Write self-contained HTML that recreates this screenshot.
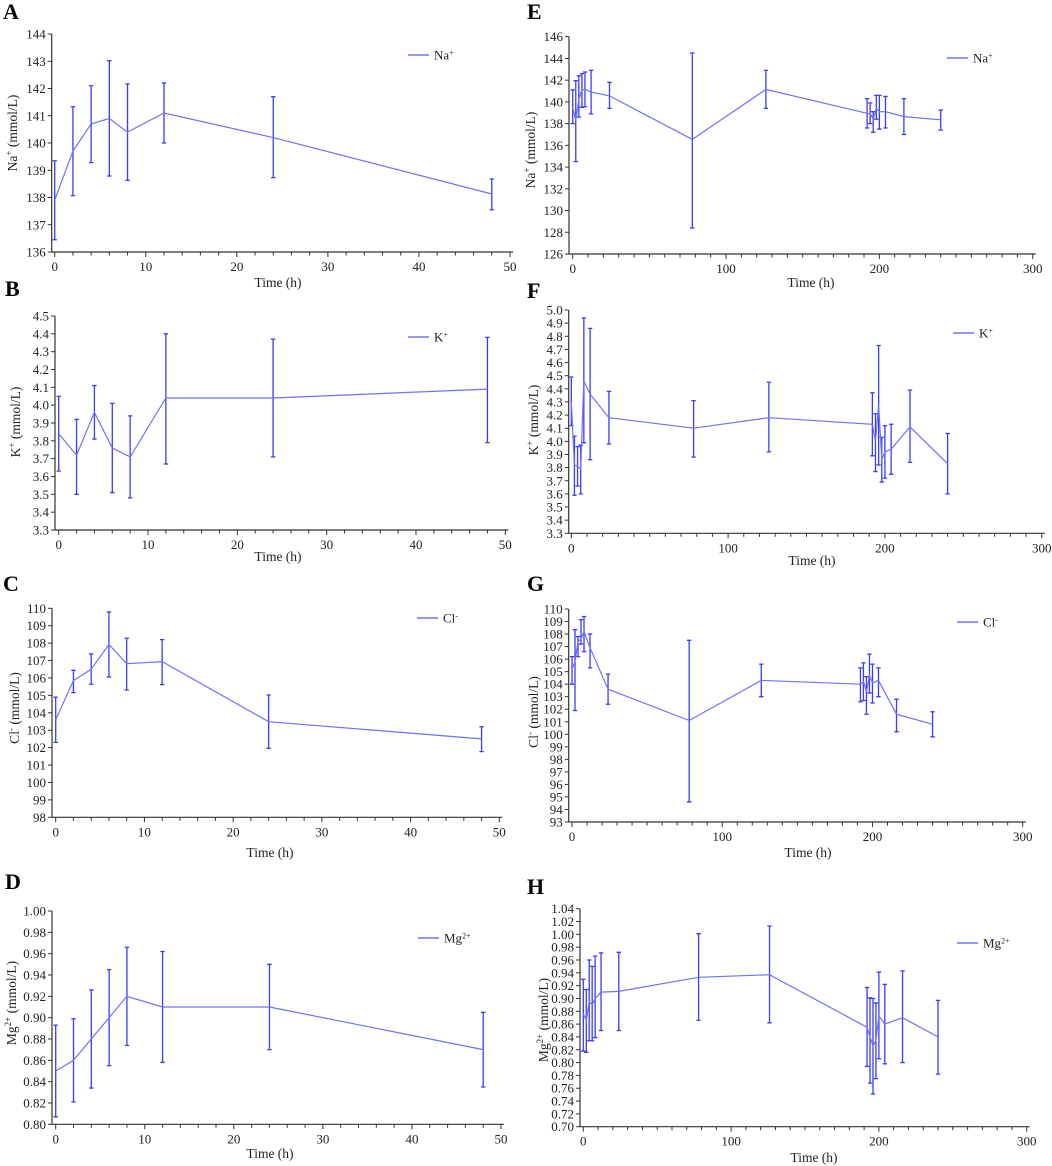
<!DOCTYPE html>
<html><head><meta charset="utf-8">
<style>
html,body{margin:0;padding:0;background:#fff;}
svg{display:block;font-family:"Liberation Serif",serif;}
</style></head>
<body>
<svg id="fig" width="1052" height="1166" viewBox="0 0 1052 1166" xmlns="http://www.w3.org/2000/svg"></svg>
<script>
// ---- data ----
const timesShort = [0, 2, 4, 6, 8, 12, 24, 48];
const timesLong = [0, 2, 4, 6, 8, 12, 24, 78, 126, 192, 194, 196, 198, 200, 204, 216, 240];

const naA = [137.9, 139.7, 140.7, 140.9, 140.4, 141.1, 140.2, 138.13];
const naALo = [136.45, 138.07, 139.28, 138.79, 138.63, 140.0, 138.73, 137.55];
const naAHi = [139.35, 141.33, 142.1, 143.02, 142.17, 142.2, 141.7, 138.68];

const kB = [3.84, 3.72, 3.96, 3.76, 3.71, 4.04, 4.04, 4.09];
const kBLo = [3.63, 3.50, 3.81, 3.51, 3.48, 3.67, 3.71, 3.79];
const kBHi = [4.05, 3.92, 4.11, 4.01, 3.94, 4.40, 4.37, 4.38];

const clC = [103.6, 105.85, 106.5, 107.93, 106.82, 106.94, 103.49, 102.5];
const clCLo = [102.3, 105.16, 105.64, 106.06, 105.31, 105.62, 101.96, 101.77];
const clCHi = [104.9, 106.44, 107.38, 109.79, 108.28, 108.2, 105.02, 103.2];

const mgD = [0.850, 0.860, 0.880, 0.900, 0.920, 0.910, 0.910, 0.870];
const mgDLo = [0.807, 0.821, 0.834, 0.855, 0.874, 0.858, 0.870, 0.835];
const mgDHi = [0.893, 0.899, 0.926, 0.945, 0.966, 0.962, 0.950, 0.905];

const naE = [139.5, 138.3, 140.2, 141.1, 141.15, 140.9, 140.55, 136.55, 141.15, 138.95, 138.9, 138.4, 139.4, 139.1, 139.1, 138.65, 138.35];
const naELo = [138.0, 134.5, 138.6, 139.5, 139.55, 138.9, 139.4, 128.4, 139.4, 137.6, 138.0, 137.2, 138.4, 137.5, 137.6, 137.0, 137.4];
const naEHi = [141.1, 141.95, 142.4, 142.6, 142.75, 142.9, 141.8, 144.5, 142.9, 140.3, 139.9, 139.1, 140.6, 140.6, 140.5, 140.3, 139.25];

const kF = [4.30, 3.82, 3.81, 3.79, 4.46, 4.36, 4.18, 4.10, 4.18, 4.13, 4.00, 4.28, 3.86, 3.92, 3.94, 4.11, 3.83];
const kFLo = [4.12, 3.59, 3.66, 3.60, 3.99, 3.86, 3.98, 3.88, 3.92, 3.89, 3.77, 3.82, 3.69, 3.72, 3.75, 3.84, 3.60];
const kFHi = [4.49, 4.04, 3.96, 3.97, 4.94, 4.86, 4.38, 4.31, 4.45, 4.37, 4.21, 4.73, 4.03, 4.12, 4.13, 4.39, 4.06];

const clG = [105.2, 105.8, 107.4, 107.6, 108.2, 106.9, 103.6, 101.1, 104.3, 104.0, 104.2, 103.4, 104.7, 104.1, 104.3, 101.6, 100.8];
const clGLo = [104.0, 101.9, 106.2, 107.2, 106.6, 105.3, 102.4, 94.6, 103.0, 102.6, 102.7, 101.6, 103.3, 102.5, 103.0, 100.2, 99.8];
const clGHi = [106.2, 108.35, 107.8, 109.15, 109.4, 108.0, 104.8, 107.5, 105.6, 105.3, 105.7, 104.6, 106.4, 105.6, 105.3, 102.8, 101.8];

const mgH = [0.876, 0.866, 0.895, 0.890, 0.900, 0.910, 0.911, 0.933, 0.937, 0.855, 0.840, 0.826, 0.834, 0.873, 0.860, 0.870, 0.840];
const mgHLo = [0.818, 0.816, 0.834, 0.834, 0.839, 0.850, 0.850, 0.866, 0.862, 0.794, 0.768, 0.751, 0.775, 0.806, 0.798, 0.800, 0.782];
const mgHHi = [0.930, 0.914, 0.960, 0.950, 0.966, 0.971, 0.972, 1.001, 1.013, 0.917, 0.901, 0.900, 0.893, 0.941, 0.922, 0.943, 0.897];

const xTicksShort = [0, 10, 20, 30, 40, 50];
const xTicksLong = [0, 100, 200, 300];

// ---- layout ----
const NS = "http://www.w3.org/2000/svg";
const svg = document.getElementById("fig");
function mk(tag, attrs, parent) {
  const e = document.createElementNS(NS, tag);
  for (const k in attrs) e.setAttribute(k, attrs[k]);
  (parent || svg).appendChild(e);
  return e;
}

const panels = [
  {key:"a", letter:"A", lx:3, ly:19, axisX:51.7, x0:54.7, x1:510, xmax:50, minor:2, xTicks:xTicksShort,
   yTop:34, yBot:252, ymin:136, ymax:144, ystep:1, dec:0, t:timesShort, v:naA, lo:naALo, hi:naAHi,
   ion:"Na", sup:"+", tx:12, ty:133, xtY:287, xtX:278, legX:408, legY:55},
  {key:"b", letter:"B", lx:5, ly:296, axisX:55, x0:58.7, x1:505.3, xmax:50, minor:2, xTicks:xTicksShort,
   yTop:316, yBot:530, ymin:3.3, ymax:4.5, ystep:0.1, dec:1, t:timesShort, v:kB, lo:kBLo, hi:kBHi,
   ion:"K", sup:"+", tx:15, ty:422, xtY:561, xtX:278, legX:408, legY:337},
  {key:"c", letter:"C", lx:3, ly:591, axisX:52, x0:55.7, x1:499.3, xmax:50, minor:2, xTicks:xTicksShort,
   yTop:608.3, yBot:817.3, ymin:98, ymax:110, ystep:1, dec:0, t:timesShort, v:clC, lo:clCLo, hi:clCHi,
   ion:"Cl", sup:"-", tx:14, ty:708, xtY:857, xtX:270, legX:417, legY:618},
  {key:"d", letter:"D", lx:5, ly:889, axisX:52, x0:55.7, x1:501, xmax:50, minor:2, xTicks:xTicksShort,
   yTop:911, yBot:1124.3, ymin:0.80, ymax:1.00, ystep:0.02, dec:2, t:timesShort, v:mgD, lo:mgDLo, hi:mgDHi,
   ion:"Mg", sup:"2+", tx:11, ty:1003, xtY:1158, xtX:270, legX:418, legY:938},
  {key:"e", letter:"E", lx:527, ly:19, axisX:569, x0:572.7, x1:1032.7, xmax:300, minor:10, xTicks:xTicksLong,
   yTop:36.7, yBot:254, ymin:126, ymax:146, ystep:2, dec:0, t:timesLong, v:naE, lo:naELo, hi:naEHi,
   ion:"Na", sup:"+", tx:530, ty:150, xtY:287, xtX:811, legX:947, legY:58},
  {key:"f", letter:"F", lx:527, ly:298, axisX:568.7, x0:571.3, x1:1041.7, xmax:300, minor:10, xTicks:xTicksLong,
   yTop:310, yBot:533.3, ymin:3.3, ymax:5.0, ystep:0.1, dec:1, t:timesLong, v:kF, lo:kFLo, hi:kFHi,
   ion:"K", sup:"+", tx:533, ty:420, xtY:565, xtX:812, legX:953, legY:333},
  {key:"g", letter:"G", lx:527, ly:591, axisX:568.7, x0:572, x1:1022.7, xmax:300, minor:10, xTicks:xTicksLong,
   yTop:609, yBot:822, ymin:93, ymax:110, ystep:1, dec:0, t:timesLong, v:clG, lo:clGLo, hi:clGHi,
   ion:"Cl", sup:"-", tx:533, ty:712, xtY:857, xtX:808, legX:957, legY:622},
  {key:"h", letter:"H", lx:527, ly:894, axisX:580, x0:583.3, x1:1026.7, xmax:300, minor:10, xTicks:xTicksLong,
   yTop:908.7, yBot:1126.7, ymin:0.70, ymax:1.04, ystep:0.02, dec:2, t:timesLong, v:mgH, lo:mgHLo, hi:mgHHi,
   ion:"Mg", sup:"2+", tx:543, ty:1020, xtY:1162, xtX:814, legX:957, legY:943}
];

const LINE = "#7070ff", BAR = "#3b3bff", AX = "#333";

panels.forEach(p => {
  const g = mk("g", {});
  
  
  const xs = x => p.x0 + (x / p.xmax) * (p.x1 - p.x0);
  const ys = y => p.yBot - (y - p.ymin) / (p.ymax - p.ymin) * (p.yBot - p.yTop);

  const L = mk("text", {x:p.lx, y:p.ly, "font-size":22, "font-weight":"bold", fill:"#000"}, g);
  L.textContent = p.letter;
  
  

  // axes
  const yAx = mk("line", {x1:p.axisX, y1:p.yTop, x2:p.axisX, y2:p.yBot, stroke:AX, "stroke-width":1.2}, g);
  
  
  const xAx = mk("line", {x1:p.axisX, y1:p.yBot, x2:p.x1 + 3, y2:p.yBot, stroke:AX, "stroke-width":1.2}, g);
  
  

  // y ticks
  const n = Math.round((p.ymax - p.ymin) / p.ystep);
  for (let i = 0; i <= n; i++) {
    const val = p.ymin + i * p.ystep;
    const yy = ys(val);
    mk("line", {x1:p.axisX - 4, y1:yy, x2:p.axisX, y2:yy, stroke:AX, "stroke-width":1}, g);
    const t = mk("text", {x:p.axisX - 6, y:yy + 4.5, "font-size":13, "text-anchor":"end", fill:"#222"}, g);
    t.textContent = val.toFixed(p.dec);
    
    
  }
  // x ticks
  for (let x = 0; x <= p.xmax + 1e-9; x += p.minor) {
    const major = p.xTicks.includes(x);
    mk("line", {x1:xs(x), y1:p.yBot, x2:xs(x), y2:p.yBot + (major ? 5 : 3.5), stroke:AX, "stroke-width":1}, g);
  }
  p.xTicks.forEach(x => {
    const t = mk("text", {x:xs(x), y:p.yBot + 19, "font-size":13, "text-anchor":"middle", fill:"#222"}, g);
    t.textContent = x;
    
    
  });
  // axis titles
  const xt = mk("text", {x:p.xtX, y:p.xtY, "font-size":13.5, "text-anchor":"middle", fill:"#222"}, g);
  xt.textContent = "Time (h)";
  
  
  const yt = mk("text", {transform:`translate(${p.tx + 5},${p.ty}) rotate(-90)`, "font-size":13.5, "text-anchor":"middle", fill:"#222"}, g);
  
  
  const s1 = mk("tspan", {}, yt); s1.textContent = p.ion;
  const s2 = mk("tspan", {"baseline-shift":"super", "font-size":9}, yt); s2.textContent = p.sup;
  const s3 = mk("tspan", {}, yt); s3.textContent = " (mmol/L)";

  // error bars
  p.t.forEach((tm, i) => {
    const x = xs(tm), y1 = ys(p.lo[i]), y2 = ys(p.hi[i]);
    const eb = mk("path", {d:`M${x},${y1}V${y2}M${x-2.2},${y1}h4.4M${x-2.2},${y2}h4.4`, stroke:BAR, "stroke-width":1.3, fill:"none"}, g);
    
    
  });
  // line
  const pts = p.t.map((tm, i) => `${xs(tm).toFixed(1)},${ys(p.v[i]).toFixed(1)}`).join(" ");
  const pl = mk("polyline", {points:pts, fill:"none", stroke:LINE, "stroke-width":1.2}, g);
  
  

  // legend
  const lg = mk("g", {}, g);
  
  
  mk("line", {x1:p.legX, y1:p.legY, x2:p.legX + 21, y2:p.legY, stroke:LINE, "stroke-width":1.5}, lg);
  const lt = mk("text", {x:p.legX + 26, y:p.legY + 4.5, "font-size":13, fill:"#222"}, lg);
  const a = mk("tspan", {}, lt); a.textContent = p.ion;
  const b = mk("tspan", {"baseline-shift":"super", "font-size":8}, lt); b.textContent = p.sup;
});
</script>
</body></html>
